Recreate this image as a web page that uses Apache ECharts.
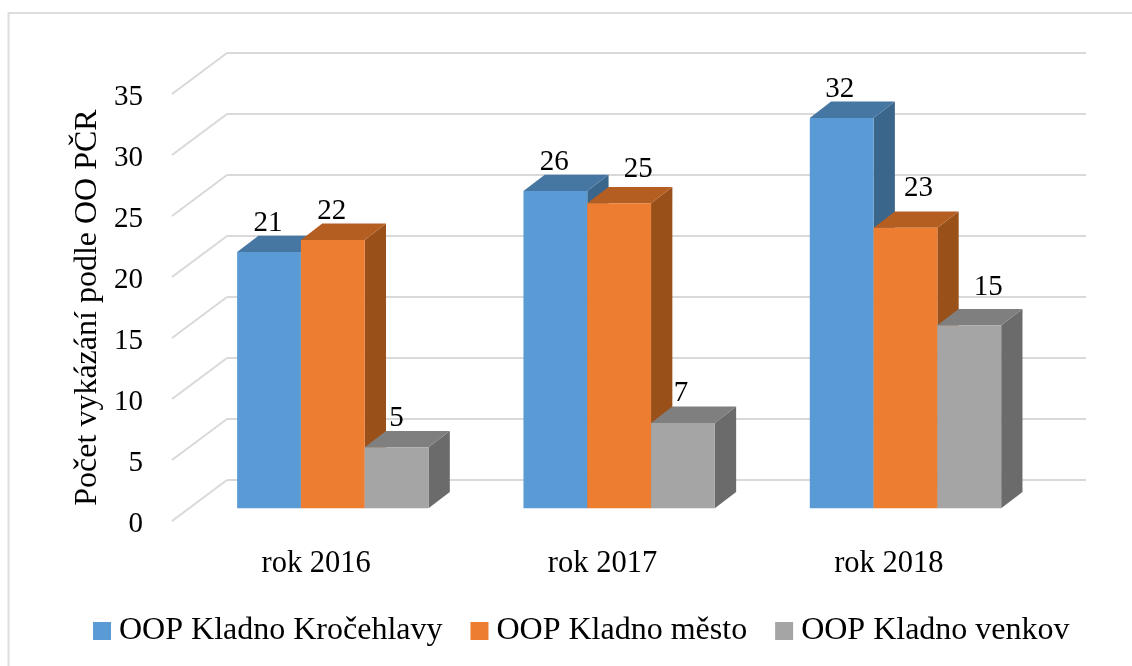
<!DOCTYPE html>
<html><head><meta charset="utf-8">
<style>html,body{margin:0;padding:0;background:#fff}#c{width:1132px;height:666px}</style>
<script src="https://cdn.jsdelivr.net/npm/echarts@6/dist/echarts.min.js"></script>
</head><body><div id="c"></div>
<script>
const categories = ['rok 2016', 'rok 2017', 'rok 2018'];
const krocehlavy = [21, 26, 32];
const mesto = [22, 25, 23];
const venkov = [5, 7, 15];
const yTicks = [0, 5, 10, 15, 20, 25, 30, 35];
const seriesNames = ['OOP Kladno Kročehlavy', 'OOP Kladno město', 'OOP Kladno venkov'];
const axisTitle = 'Počet vykázání podle OO PČR';

// Label placement tweaks (px), by series then category
const labelShiftX = [[-1, -1, -2], [-1, 19, 13], [0, -2, 19]];
const labelLift = [[0, 0, 0], [0, 5, 11], [0, 1, 9]];

const FONT = '"Liberation Serif", serif';
const FS_NUM = 29, FS_CAT = 30.5, FS_WIDE = 32;
const palette = [
  {front: '#5B9BD5', top: '#4677A3', side: '#3A668C'},
  {front: '#ED7D31', top: '#B55E22', side: '#9A5119'},
  {front: '#A5A5A5', top: '#7F7F7F', side: '#6B6B6B'}
];
const WALL_DX = 55, WALL_DY = -41;      // front plane -> back wall
const BAR_INSET = 0.31;                 // bars stand this far into the floor
const BAR_DX = 21.3, BAR_DY = -16.3;    // depth of one bar
const BAR_BAND = 0.2228;                // bar width as share of a category band

function barRender(sIdx) {
  return function (params, api) {
    const cat = api.value(0), val = api.value(1);
    const band = api.size([1, 0])[0];
    const w = band * BAR_BAND;
    const c = api.coord([cat, val]);
    const b = api.coord([cat, 0]);
    const ox = WALL_DX * BAR_INSET + 0.6, oy = WALL_DY * BAR_INSET;
    const x = c[0] + ox + (sIdx - 1.5) * w;
    const yT = c[1] + oy, yB = b[1] + oy;
    const p = palette[sIdx];
    const poly = (pts, fill) => ({type: 'polygon', shape: {points: pts}, style: {fill: fill}});
    return {type: 'group', children: [
      poly([[x + w, yB], [x + w + BAR_DX, yB + BAR_DY], [x + w + BAR_DX, yT + BAR_DY], [x + w, yT]], p.side),
      poly([[x, yT], [x + BAR_DX, yT + BAR_DY], [x + w + BAR_DX, yT + BAR_DY], [x + w, yT]], p.top),
      {type: 'rect', shape: {x: x, y: yT, width: w, height: yB - yT}, style: {fill: p.front}},
      {type: 'text', z2: 10, style: {
        text: String(val), x: x + w / 2 + labelShiftX[sIdx][cat], y: yT - 14 - labelLift[sIdx][cat],
        align: 'center', verticalAlign: 'bottom', font: FS_NUM + 'px ' + FONT, fill: '#000'}}
    ]};
  };
}

const diagonalSeries = {
  type: 'custom', xAxisIndex: 1, yAxisIndex: 1, silent: true, z: 1,
  data: yTicks.map(v => [0, v]),
  renderItem: function (params, api) {
    const c = api.coord([0, api.value(1)]);
    const x0 = c[0] - api.size([1, 0])[0] / 2;
    return {type: 'line', shape: {x1: x0, y1: c[1], x2: x0 + WALL_DX, y2: c[1] + WALL_DY},
      style: {stroke: '#D9D9D9', lineWidth: 2, fill: null}};
  }
};

const barSeries = [krocehlavy, mesto, venkov].map((vals, i) => ({
  type: 'custom', name: seriesNames[i], xAxisIndex: 1, yAxisIndex: 1, z: 3 + i,
  itemStyle: {color: palette[i].front},
  data: vals.map((v, k) => [k, v]),
  encode: {x: 0, y: 1},
  renderItem: barRender(i)
}));

const chart = echarts.init(document.getElementById('c'), null, {renderer: 'canvas'});
chart.setOption({
  animation: false,
  backgroundColor: '#fff',
  graphic: [{type: 'polyline', silent: true,
    shape: {points: [[8.5, 666], [8.5, 13], [1132, 13]]},
    style: {stroke: '#DDDDDD', lineWidth: 2, fill: null}}],
  grid: [
    {left: 227, right: 46, top: 53, height: 427},
    {left: 172, width: 859, top: 94, height: 427},
    {left: 172, width: 859, top: 97, height: 427}   // carries the tick labels, set slightly lower
  ],
  xAxis: [
    {gridIndex: 0, type: 'category', data: categories, show: false},
    {gridIndex: 1, type: 'category', data: categories,
     axisLine: {show: false}, axisTick: {show: false},
     axisLabel: {margin: 27, color: '#000', fontFamily: FONT, fontSize: FS_CAT, padding: [0, 0, 0, 2]}},
    {gridIndex: 2, type: 'category', data: categories, show: false}
  ],
  yAxis: [
    {gridIndex: 0, type: 'value', min: 0, max: 35, interval: 5,
     axisLine: {show: false}, axisTick: {show: false}, axisLabel: {show: false},
     splitLine: {show: true, lineStyle: {color: '#D9D9D9', width: 2}}},
    {gridIndex: 1, type: 'value', min: 0, max: 35, interval: 5,
     name: axisTitle, nameLocation: 'middle', nameGap: 68, nameRotate: 90,
     nameTextStyle: {color: '#000', fontFamily: FONT, fontSize: FS_WIDE},
     axisLine: {show: false}, axisTick: {show: false}, splitLine: {show: false},
     axisLabel: {show: false}},
    {gridIndex: 2, type: 'value', min: 0, max: 35, interval: 5,
     axisLine: {show: false}, axisTick: {show: false}, splitLine: {show: false},
     axisLabel: {margin: 29, color: '#000', fontFamily: FONT, fontSize: FS_NUM}}
  ],
  legend: {
    data: seriesNames, left: 93, top: 615, padding: 0, icon: 'rect', itemWidth: 18, itemHeight: 18, itemGap: 28,
    textStyle: {color: '#000', fontFamily: FONT, fontSize: FS_WIDE, padding: [0, 0, 0, 3]}
  },
  series: [diagonalSeries].concat(barSeries)
});
</script></body></html>
